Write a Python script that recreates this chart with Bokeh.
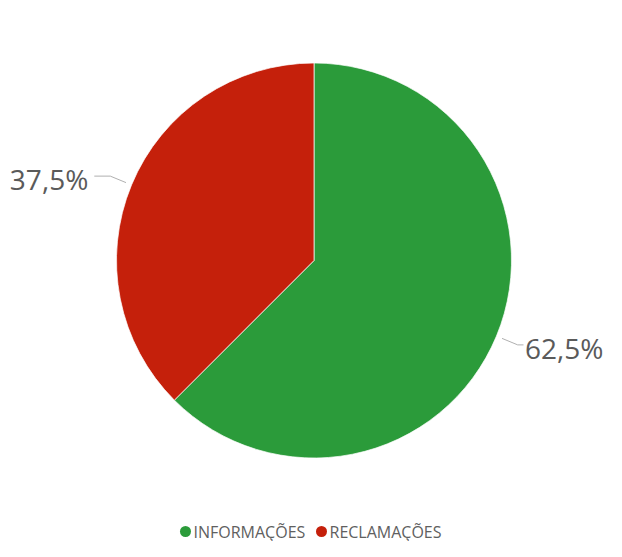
import math
from bokeh.plotting import figure
from bokeh.models import Range1d
from bokeh.core.properties import value
from bokeh.embed import file_html
from bokeh.resources import INLINE

categories = ["INFORMAÇÕES", "RECLAMAÇÕES"]
shares = [62.5, 37.5]
colors = ["#2b9b3a", "#c5200b"]

W, H = 606, 541
# coordinates: x in picture pixels, y = H - picture_y
p = figure(width=W, height=H, output_backend="svg", toolbar_location=None,
           x_range=Range1d(0, W), y_range=Range1d(0, H),
           min_border=0, outline_line_color=None)
p.axis.visible = False
p.grid.visible = False
p.background_fill_color = "white"
p.border_fill_color = "white"

def Y(py):
    return H - py

cx, cy, r = 313.5, Y(260), 197.5
total = sum(shares)
start = math.pi / 2
font = value("Open Sans")
for cat, v, col in zip(categories, shares, colors):
    sweep = 2 * math.pi * v / total
    end = start - sweep
    p.wedge(x=[cx], y=[cy], radius=r, start_angle=start, end_angle=end,
            direction="clock", fill_color=col, line_color="white", line_width=0.7)
    mid = start - sweep / 2
    ux, uy = math.cos(mid), math.sin(mid)
    x0, y0 = cx + (r + 6) * ux, cy + (r + 6) * uy
    x1, y1 = cx + (r + 23) * ux, cy + (r + 23) * uy
    lbl = ("%.1f" % v).replace(".", ",") + "%"
    if ux < 0:
        x2 = x1 - 16
        tx, align = x2 - 6, "right"
    else:
        tx, align = W - 3, "right"
        x2 = min(x1 + 16, tx - 74 - 6)
    p.line([x0, x1, x2], [y0, y1, y1], line_color="#b0b0b0", line_width=1)
    p.text(x=[tx], y=[y1 - 3], text=[lbl], text_font=font,
           text_font_size="28px", text_color="#5a5a5a",
           text_align=align, text_baseline="middle")
    start = end

# legend
ly = Y(531)
lx = 185
for cat, col in zip(categories, colors):
    p.scatter(x=[lx], y=[ly], size=11, marker="circle", fill_color=col, line_color=None)
    p.text(x=[lx + 8], y=[ly], text=[cat], text_font=font, text_font_size="16px",
           text_color="#606060", text_align="left", text_baseline="middle")
    lx += 136

open("out.html", "w").write(file_html(p, INLINE))
